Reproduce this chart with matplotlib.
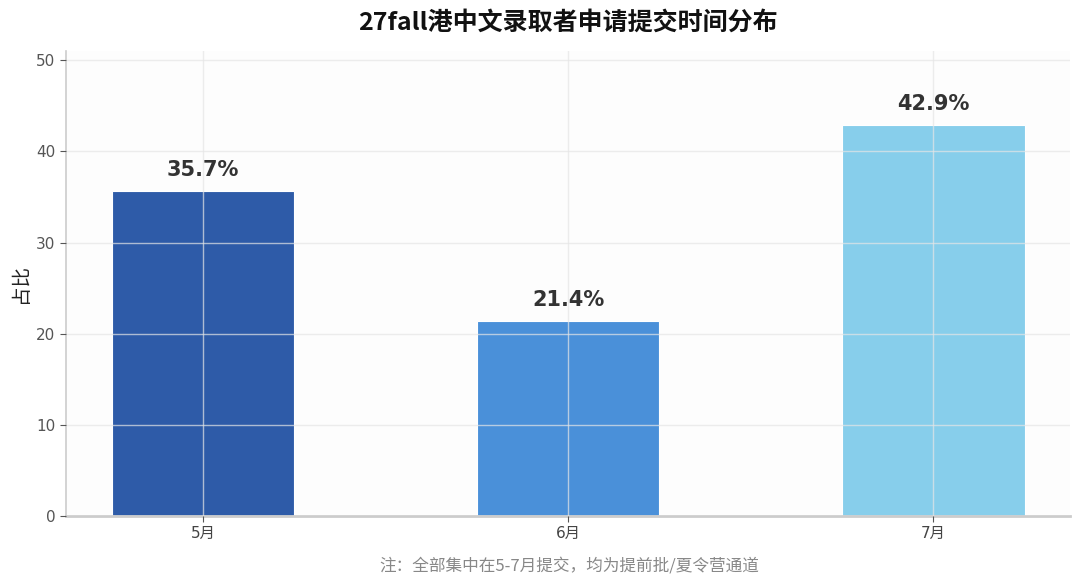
import matplotlib
matplotlib.use("Agg")
import matplotlib.pyplot as plt

plt.rcParams['font.family'] = ['DejaVu Sans', 'Noto Sans CJK SC']

categories = ['5月', '6月', '7月']
values = [35.7, 21.4, 42.9]
labels = ['35.7%', '21.4%', '42.9%']
colors = ['#2E5BA8', '#4A90D9', '#87CEEB']
yticks = [0, 10, 20, 30, 40, 50]

fig = plt.figure(figsize=(10.8, 5.87), dpi=100)
ax = fig.add_axes([0.061, 0.121, 0.93, 0.792])
ax.set_facecolor('#fdfdfd')

x = list(range(len(categories)))
bars = ax.bar(x, values, width=0.5, color=colors, edgecolor='white', linewidth=0.8, zorder=1)
for xi, v, lab in zip(x, values, labels):
    ax.text(xi, v + 1.2, lab, ha='center', va='bottom', fontsize=15, fontweight='bold',
            color='#333333')

ax.set_ylim(0, 51)
ax.set_yticks(yticks)
ax.set_xticks(x)
ax.set_xticklabels(categories)
ax.grid(True, color='#e6e6e6', alpha=0.7, linewidth=1.0, zorder=3)
ax.set_axisbelow(False)

for s in ['top', 'right']:
    ax.spines[s].set_visible(False)
ax.spines['left'].set_color('#cccccc')
ax.spines['left'].set_linewidth(1.2)
ax.spines['bottom'].set_color('#cccccc')
ax.spines['bottom'].set_linewidth(2)
ax.tick_params(axis='both', colors='#555555', labelsize=11, length=4)
ax.tick_params(axis='x', labelcolor='#444444')
ax.set_ylabel('占比', fontsize=14, color='#222222', labelpad=4,
              family=['Noto Sans CJK SC', 'DejaVu Sans'])

fig.suptitle('27fall港中文录取者申请提交时间分布', fontsize=18, fontweight='bold', x=0.526, y=0.982,
             color='#111111', family=['Noto Sans CJK SC', 'DejaVu Sans'])
fig.text(0.527, 0.035, '注：全部集中在5-7月提交，均为提前批/夏令营通道', ha='center', va='center',
         fontsize=12, color='#888888', family=['Noto Sans CJK SC', 'DejaVu Sans'])

fig.savefig('out.png', dpi=100)
